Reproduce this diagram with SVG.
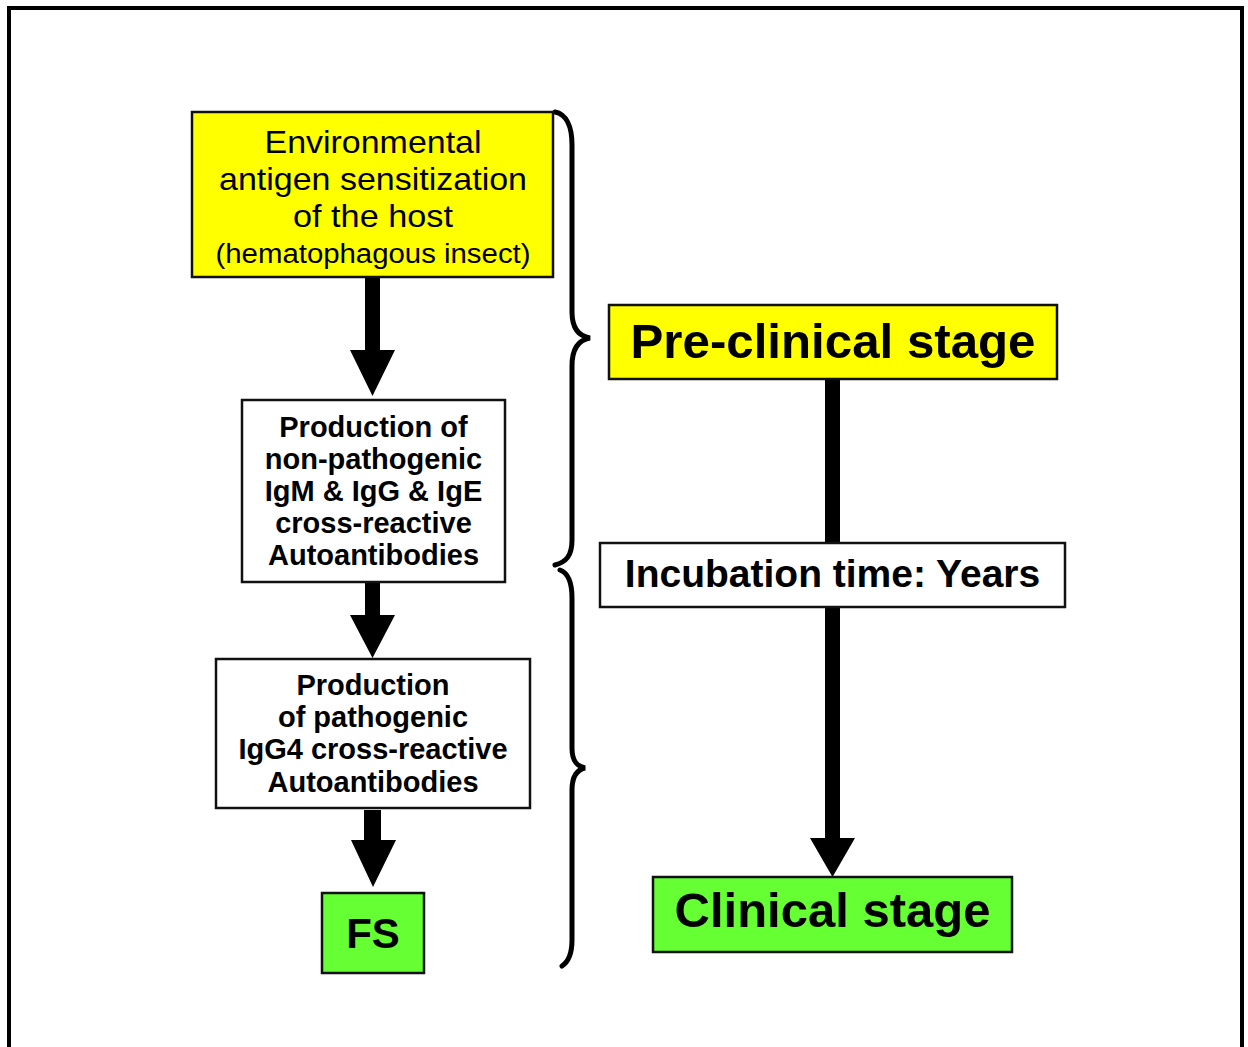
<svg xmlns="http://www.w3.org/2000/svg" width="1248" height="1047" viewBox="0 0 1248 1047">
<style>
.box{stroke:#111;stroke-width:2.5}
.yel{fill:#ffff00}
.grn{fill:#66ff33}
.wht{fill:#ffffff}
.t{font-family:"Liberation Sans",Arial,sans-serif;fill:#000;text-anchor:middle}
.b{font-weight:bold}
.brace{fill:none;stroke:#000;stroke-width:5;stroke-linecap:round}
.arr{fill:#000}
</style>
<rect x="0" y="0" width="1248" height="1047" fill="#fff"/>
<rect x="9" y="8" width="1233" height="1060" fill="none" stroke="#000" stroke-width="4"/>

<g id="connectors">
  <path class="arr" d="M365 277 H380 V350 H395 L372.5 396 L350 350 H365 Z"/>
  <path class="arr" d="M365 582 H380 V615 H395 L372.5 658 L350 615 H365 Z"/>
  <path class="arr" d="M364 810 H381 V840 H396 L373 887 L351 840 H364 Z"/>
  <rect class="arr" x="825" y="379" width="15" height="164"/>
  <path class="arr" d="M825 607 H840 V838 H855 L832.5 877 L810 838 H825 Z"/>
  <path class="brace" d="M555 112 C566 114,572 126,572 145 L572 312 C572 328,578 336,590 338 C578 340,572 350,572 366 L572 540 C572 556,566 562,555 565"/>
  <path class="brace" d="M560 570 C568 573,572 582,572 598 L572 748 C572 760,576 766,585 768 C576 770,572 778,572 790 L572 940 C572 954,568 962,562 966"/>
</g>

<g id="node-environmental">
  <rect class="box yel" x="192" y="112" width="361" height="165"/>
  <text class="t" font-size="32" x="373" y="153" textLength="217" lengthAdjust="spacingAndGlyphs">Environmental</text>
  <text class="t" font-size="32" x="373" y="190" textLength="308" lengthAdjust="spacingAndGlyphs">antigen sensitization</text>
  <text class="t" font-size="32" x="373" y="227" textLength="160" lengthAdjust="spacingAndGlyphs">of the host</text>
  <text class="t" font-size="27" x="373" y="263" textLength="315" lengthAdjust="spacingAndGlyphs">(hematophagous insect)</text>
</g>

<g id="node-nonpathogenic">
  <rect class="box wht" x="242" y="400" width="263" height="182"/>
  <text class="t b" font-size="29" x="373.5" y="437">Production of</text>
  <text class="t b" font-size="29" x="373.5" y="469">non-pathogenic</text>
  <text class="t b" font-size="29" x="373.5" y="501">IgM &amp; IgG &amp; IgE</text>
  <text class="t b" font-size="29" x="373.5" y="533">cross-reactive</text>
  <text class="t b" font-size="29" x="373.5" y="565">Autoantibodies</text>
</g>

<g id="node-pathogenic">
  <rect class="box wht" x="216" y="659" width="314" height="149"/>
  <text class="t b" font-size="29" x="373" y="695">Production</text>
  <text class="t b" font-size="29" x="373" y="727">of pathogenic</text>
  <text class="t b" font-size="29" x="373" y="759">IgG4 cross-reactive</text>
  <text class="t b" font-size="29" x="373" y="792">Autoantibodies</text>
</g>

<g id="node-fs">
  <rect class="box grn" x="322" y="893" width="102" height="80"/>
  <text class="t b" font-size="42" x="373" y="948">FS</text>
</g>

<g id="node-preclinical">
  <rect class="box yel" x="609" y="305" width="448" height="74"/>
  <text class="t b" font-size="48" x="833" y="358" textLength="405" lengthAdjust="spacingAndGlyphs">Pre-clinical stage</text>
</g>

<g id="node-incubation">
  <rect class="box wht" x="600" y="543" width="465" height="64"/>
  <text class="t b" font-size="39" x="832.5" y="587">Incubation time: Years</text>
</g>

<g id="node-clinical">
  <rect class="box grn" x="653" y="877" width="359" height="75"/>
  <text class="t b" font-size="49" x="832.5" y="927">Clinical stage</text>
</g>
</svg>
